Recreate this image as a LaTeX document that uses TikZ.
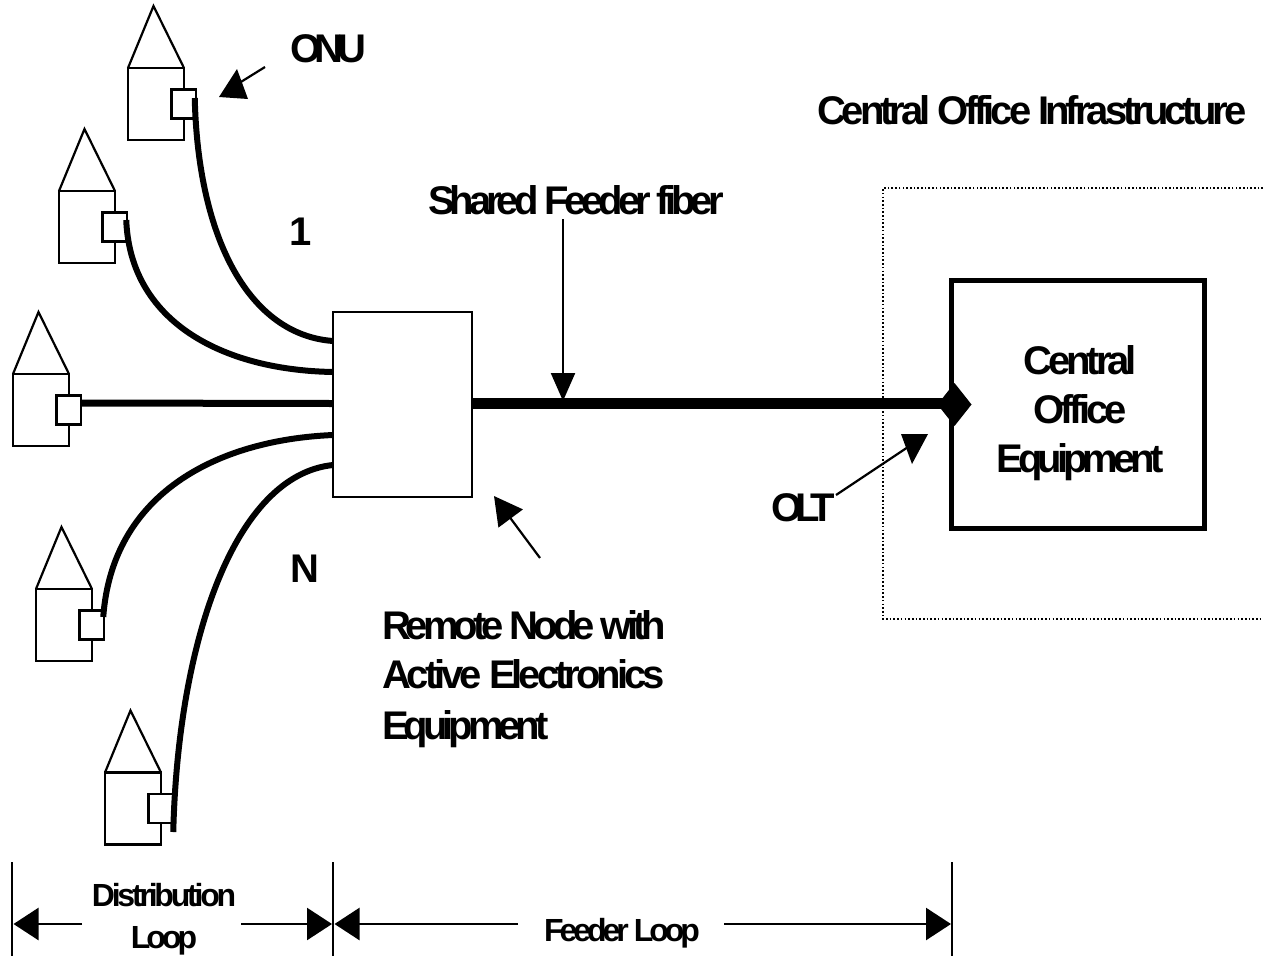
\documentclass[tikz,border=0pt]{standalone}
\usepackage{fontspec}
\usetikzlibrary{arrows.meta,shapes.geometric,calc}
\setmainfont{Liberation Sans}
\newfontfamily\tightfont{Liberation Sans}[LetterSpace=-10]
\newfontfamily\tightbfont{Liberation Sans}[LetterSpace=-12.5]
\newfontfamily\tighterfont{Liberation Sans}[LetterSpace=-16]
\tikzset{
  bodybox/.style={draw=black,line width=2.5pt,fill=white,inner sep=0pt,outer sep=0pt,minimum width=56pt,minimum height=72pt},
  onubox/.style={draw=black,line width=2.5pt,fill=white,inner sep=0pt,outer sep=0pt,minimum width=24.5pt,minimum height=29pt},
  roof/.style={draw=black,line width=2.2pt,line join=miter},
  fiber/.style={draw=black,line width=6pt},
  pointer/.style={draw=black,line width=2.2pt},
  headfill/.style={fill=black,draw=none},
  biglabel/.style={font=\tightfont\bfseries\fontsize{40}{49}\selectfont,inner sep=0pt,outer sep=0pt},
  smalllabel/.style={font=\tightfont\bfseries\fontsize{32}{42}\selectfont,inner sep=0pt,outer sep=0pt},
  dimline/.style={draw=black,line width=2.5pt,-{Triangle[length=25pt,width=32pt]}},
  extline/.style={draw=black,line width=2pt},
}
\newcommand{\myhouse}[3]{%
  \node[bodybox] (#1) at (#2,#3) {};
  \draw[roof] (#1.north west) -- ($(#1.north)+(-2.5pt,62pt)$) -- (#1.north east);
  \node[onubox] (#1box) at ($(#1.center)+(27.5pt,0pt)$) {};
}
\begin{document}
\begin{tikzpicture}[x=1pt,y=-1pt]
\useasboundingbox (0,0) rectangle (1263,956);
% dotted central office boundary
\coordinate (dtr) at (1263,188);
\coordinate (dtl) at (883,188);
\coordinate (dbl) at (883,619);
\coordinate (dbr) at (1263,619);
\draw[line width=1.6pt,dash pattern=on 1.6pt off 2.1pt] (dtr) -- (dtl) -- (dbl) -- (dbr);

% houses
\myhouse{h1}{156}{104}
\myhouse{h2}{87}{227}
\myhouse{h3}{41}{410}
\myhouse{h4}{64}{625}
\myhouse{h5}{133}{808.5}

% remote node and central office
\node[draw=black,line width=2.4pt,fill=white,inner sep=0pt,outer sep=0pt,minimum width=139pt,minimum height=185pt] (rn) at (402.5,404.5) {};
\node[draw=black,line width=5.2pt,fill=white,inner sep=0pt,outer sep=0pt,minimum width=253pt,minimum height=248pt] (co) at (1078,404.5) {};
\node[diamond,fill=black,inner sep=0pt,outer sep=0pt,minimum width=34pt,minimum height=43pt,aspect=0.77] (olt) at (954.5,404.5) {};

% fibers
\coordinate (r1) at ($(rn.north west)+(0pt,-29pt)$);
\coordinate (r2) at ($(rn.north west)+(0pt,-60pt)$);
\coordinate (r3) at ($(rn.west)+(0pt,1pt)$);
\coordinate (r4) at ($(rn.south west)+(0pt,62pt)$);
\coordinate (r5) at ($(rn.south west)+(0pt,32pt)$);
\coordinate (r6) at ($(rn.east)+(0pt,1pt)$);
\draw[fiber] ($(h1box.east)+(-1pt,6pt)$) .. controls (198,240) and (250,335) .. (r1);
\draw[fiber] ($(h2box.east)+(-0.5pt,7pt)$) .. controls (130,320) and (220,370) .. (r2);
\draw[fiber,line width=7pt] ($(h3box.east)+(0pt,7pt)$) -- (r3);
\draw[fiber] ($(h4box.east)+(-0.5pt,8pt)$) .. controls (112,495) and (215,440) .. (r4);
\draw[fiber] ($(h5box.east)+(0.5pt,-23.5pt)$) .. controls (178,640) and (235,475) .. (r5);
\draw[fiber,line width=11pt] (r6) -- (r6-|olt.center);

% text
\node[biglabel,anchor=base west,font=\tighterfont\bfseries\fontsize{40}{49}\selectfont] (onu) at (290,62) {ONU};
\node[biglabel,anchor=base west] (one) at (289,245) {1};
\node[biglabel,anchor=base west] (enn) at (290,582) {N};
\node[biglabel,anchor=base west] (cinf) at (817,124) {Central Office Infrastructure};
\node[biglabel,anchor=base west,font=\tightbfont\bfseries\fontsize{40}{49}\selectfont] (shared) at (428,214) {Shared Feeder fiber};
\node[biglabel,align=center,anchor=center] (coeq) at (1080,413.5) {Central\\Office\\{\tightbfont Equipment}};
\node[biglabel,anchor=base west,font=\tighterfont\bfseries\fontsize{40}{49}\selectfont] (oltl) at (771,521) {OLT};
\node[biglabel,align=left,anchor=north west] (rnl) at (382,611) {{\tightbfont Remote Node with}\\Active Electronics\\[2pt]{\tightbfont Equipment}};
\node[smalllabel,align=center,anchor=center] (dist) at (164,919.5) {Distribution\\{\tightbfont Loop}};
\node[smalllabel,anchor=base west,font=\tightbfont\bfseries\fontsize{32}{42}\selectfont] (feed) at (544,941) {Feeder Loop};

% pointers
\coordinate (onuT) at (265,67);
\coordinate (onuH) at (236,85);
\draw[pointer] (onuT) -- (onuH);
\fill[headfill] (219,97) -- (237,69) -- (248,99) -- cycle;
\coordinate (oltT) at (836,495);
\coordinate (oltH) at (908,447);
\draw[pointer] (oltT) -- (oltH);
\fill[headfill] (901,434) -- (928,434) -- (912,464) -- cycle;
\coordinate (rnT) at (540,558);
\coordinate (rnH) at (494,496);
\draw[pointer,-{Triangle[length=28pt,width=30pt]}] (rnT) -- (rnH);
\coordinate (shT) at (563,219);
\coordinate (shH) at (563,401);
\draw[pointer,-{Triangle[length=28pt,width=24pt]}] (shT) -- (shH);

% dimension lines
\coordinate (e1a) at (12,862); \coordinate (e1b) at (12,956);
\coordinate (e2a) at (333,862); \coordinate (e2b) at (333,956);
\coordinate (e3a) at (952,862); \coordinate (e3b) at (952,956);
\draw[extline] (e1a) -- (e1b);
\draw[extline] (e2a) -- (e2b);
\draw[extline] (e3a) -- (e3b);
\coordinate (d1) at (82,924); \coordinate (d2) at (241,924);
\coordinate (d3) at (518,924); \coordinate (d4) at (724,924);
\draw[dimline] (d1) -- (13.5,924);
\draw[dimline] (d2) -- (332,924);
\draw[dimline] (d3) -- (334.5,924);
\draw[dimline] (d4) -- (951,924);
\end{tikzpicture}
\end{document}
